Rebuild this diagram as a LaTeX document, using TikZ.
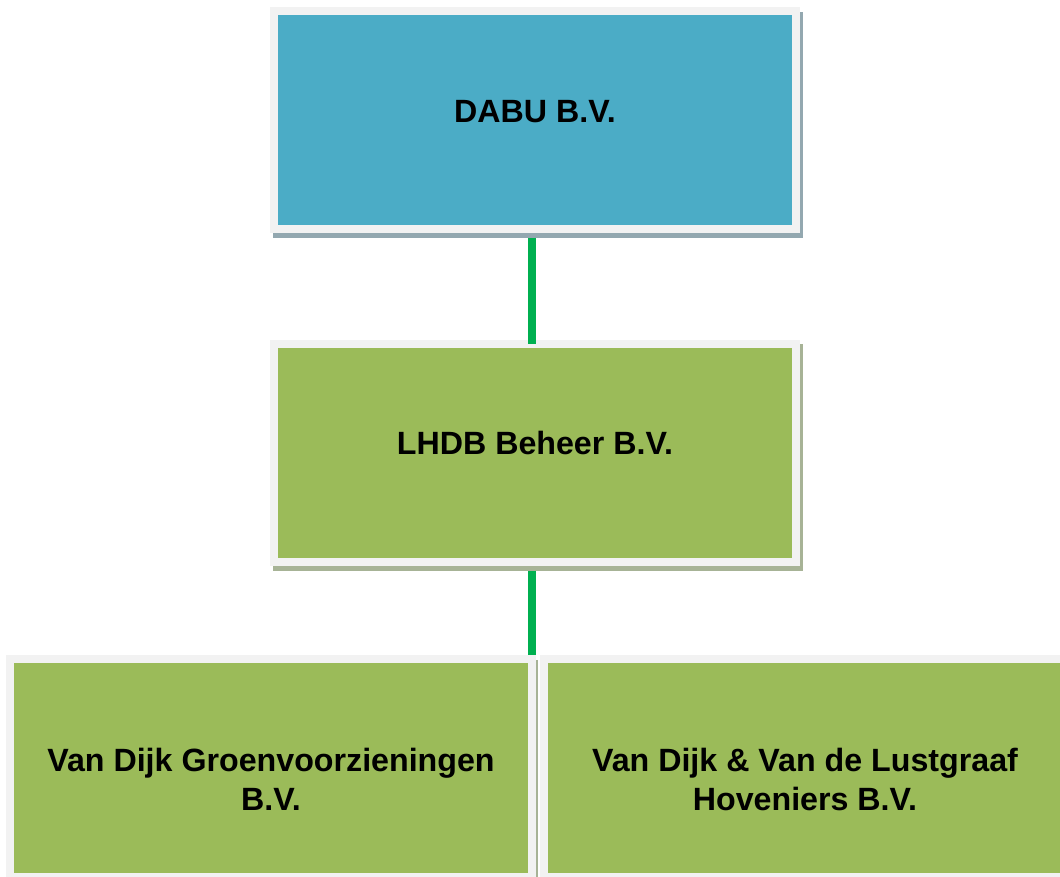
\documentclass[tikz,border=0pt]{standalone}
\usepackage{fontspec}
\setmainfont{Liberation Sans}
\definecolor{boxblue}{HTML}{4BACC6}
\definecolor{boxgreen}{HTML}{9BBB59}
\definecolor{framegray}{HTML}{F2F2F2}
\definecolor{shadeblue}{HTML}{93A8B0}
\definecolor{shadegreen}{HTML}{A7B396}
\definecolor{linkgreen}{HTML}{00B050}
\tikzset{
  orgbox/.style={draw=framegray, line width=8pt, minimum width=522pt, minimum height=218pt, inner sep=0pt},
  orgtext/.style={font=\bfseries\fontsize{32.2}{39.5}\selectfont, align=center, anchor=base, inner sep=0pt, text=black},
  link/.style={draw=linkgreen, line width=8pt},
}
\begin{document}
\begin{tikzpicture}[x=1pt,y=-1pt]
\useasboundingbox[fill=white] (0,0) rectangle (1060,877);
% shadows
\fill[shadeblue] (273,12) rectangle (803,238);
\fill[shadegreen] (273,344) rectangle (803,571);
\fill[shadegreen] (8,660) rectangle (538,886);
\fill[shadegreen] (542,660) rectangle (1072,886);
\node[orgbox, fill=boxblue] (top) at (535,120) {};
\node[orgbox, fill=boxgreen] (mid) at (535,452.5) {};
\node[orgbox, fill=boxgreen] (left) at (271,768) {};
\node[orgbox, fill=boxgreen] (right) at (805,768) {};
\coordinate (j1) at ([shift={(-3,5)}]top.south);
\coordinate (j2) at ([shift={(-3,4)}]mid.north);
\coordinate (j3) at ([shift={(-3,5)}]mid.south);
\coordinate (j4) at (j3 |- left.north);
\draw[link] (j1) -- (j2);
\draw[link] (j3) -- (j4);
\node[orgtext] (t1) at (535,123) {DABU B.V.};
\node[orgtext] (t2) at (535,454) {LHDB Beheer B.V.};
\node[orgtext] (t3) at (271,810.5) {Van Dijk Groenvoorzieningen\\B.V.};
\node[orgtext] (t4) at (805,810.5) {Van Dijk \& Van de Lustgraaf\\Hoveniers B.V.};
\end{tikzpicture}
\end{document}
